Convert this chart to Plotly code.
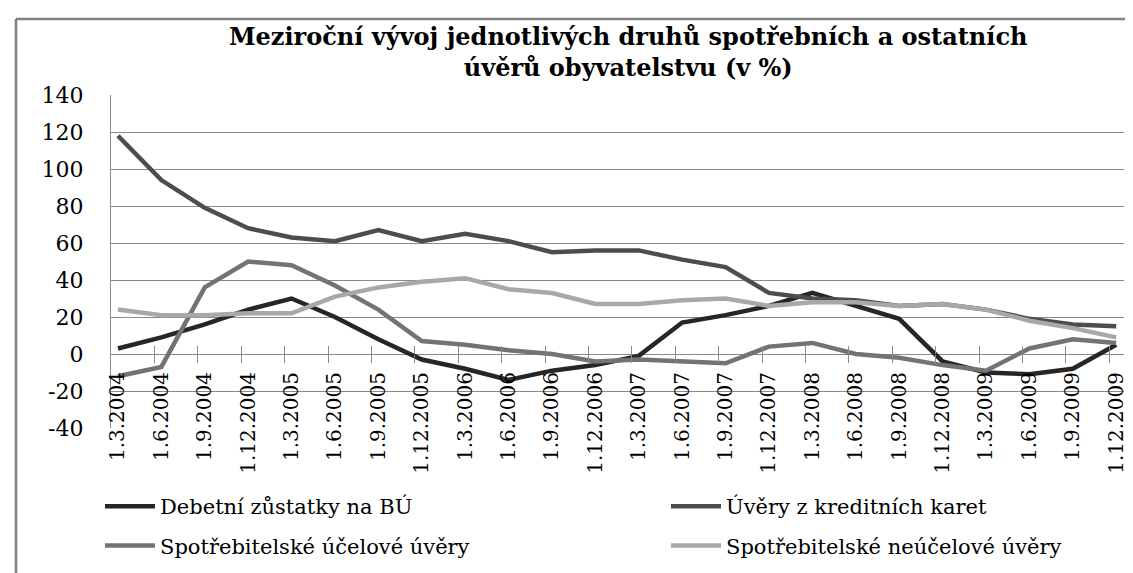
import plotly.graph_objects as go

# Quarterly dates (categories)
dates = [
    "1.3.2004", "1.6.2004", "1.9.2004", "1.12.2004",
    "1.3.2005", "1.6.2005", "1.9.2005", "1.12.2005",
    "1.3.2006", "1.6.2006", "1.9.2006", "1.12.2006",
    "1.3.2007", "1.6.2007", "1.9.2007", "1.12.2007",
    "1.3.2008", "1.6.2008", "1.9.2008", "1.12.2008",
    "1.3.2009", "1.6.2009", "1.9.2009", "1.12.2009",
]

# Year-on-year growth in %
debetni = [3, 9, 16, 24, 30, 20, 8, -3, -8, -14, -9, -6,
           -1, 17, 21, 26, 33, 26, 19, -4, -10, -11, -8, 5]
kreditni = [118, 94, 79, 68, 63, 61, 67, 61, 65, 61, 55, 56,
            56, 51, 47, 33, 30, 29, 26, 27, 24, 19, 16, 15]
ucelove = [-12, -7, 36, 50, 48, 37, 24, 7, 5, 2, 0, -4,
           -3, -4, -5, 4, 6, 0, -2, -6, -9, 3, 8, 6]
neucelove = [24, 21, 21, 22, 22, 31, 36, 39, 41, 35, 33, 27,
             27, 29, 30, 26, 28, 28, 26, 27, 24, 18, 14, 9]

y_ticks = [-40, -20, 0, 20, 40, 60, 80, 100, 120, 140]

series = [
    ("Debetní zůstatky na BÚ", debetni, "#262626", "legend"),
    ("Úvěry z kreditních karet", kreditni, "#4d4d4d", "legend2"),
    ("Spotřebitelské účelové úvěry", ucelove, "#737373", "legend"),
    ("Spotřebitelské neúčelové úvěry", neucelove, "#a8a8a8", "legend2"),
]

x_idx = list(range(len(dates)))
serif = "DejaVu Serif"
grid = "#8a8a8a"
W, H = 1133, 573
L, R, T, B = 103, 17, 87, 153
pw, ph = W - L - R, H - T - B

fig = go.Figure()
for i, (name, vals, color, leg) in enumerate(series):
    fig.add_trace(go.Scatter(
        x=x_idx, y=vals, name=name, mode="lines",
        line=dict(color=color, width=4.5),
        legend=leg, legendgroup=str(i),
    ))

xr = [-0.16, 23.18]
zero_pos = 40 / 180
tick_pos = [i + 0.84 for i in range(len(dates) - 1)]

leg_style = dict(
    orientation="v", xref="container", yref="container",
    xanchor="left", yanchor="top", y=1 - 478 / H,
    font=dict(family=serif, size=21, color="black"),
    itemwidth=50, tracegroupgap=9, bgcolor="rgba(0,0,0,0)",
)

fig.update_layout(
    width=W, height=H,
    paper_bgcolor="white", plot_bgcolor="white",
    margin=dict(l=L, r=R, t=T, b=B, autoexpand=False),
    font=dict(family=serif, color="black"),
    xaxis=dict(
        range=xr, tickmode="array", tickvals=x_idx, ticktext=dates,
        tickangle=-90, anchor="free", position=zero_pos, automargin=False,
        showgrid=False, zeroline=False, showline=False,
        ticks="outside", ticklen=9, tickcolor="rgba(0,0,0,0)",
        tickfont=dict(family=serif, size=20, color="black"),
    ),
    xaxis2=dict(
        range=xr, overlaying="x", anchor="free", position=zero_pos,
        tickmode="array", tickvals=tick_pos, showticklabels=False,
        ticks="inside", ticklen=8, tickcolor=grid, tickwidth=1.3,
        showgrid=False, zeroline=False, showline=False, automargin=False,
    ),
    xaxis3=dict(
        range=xr, overlaying="x", anchor="free", position=zero_pos,
        tickmode="array", tickvals=tick_pos, showticklabels=False,
        ticks="outside", ticklen=8, tickcolor=grid, tickwidth=1.3,
        showgrid=False, zeroline=False, showline=False, automargin=False,
    ),
    yaxis=dict(
        range=[-40, 140], tickmode="array", tickvals=y_ticks,
        ticktext=[str(v) for v in y_ticks],
        showgrid=True, gridcolor=grid, gridwidth=1.3,
        zeroline=True, zerolinecolor=grid, zerolinewidth=1.3,
        showline=True, linecolor=grid, linewidth=1.3, automargin=False,
        ticks="outside", ticklen=22, tickcolor="rgba(0,0,0,0)",
        tickfont=dict(family=serif, size=22, color="black"),
    ),
    legend=dict(leg_style, x=92 / W),
    legend2=dict(leg_style, x=658 / W),
    showlegend=True,
)

# title as annotation so both lines sit where the reference has them
fig.add_annotation(
    text="<b>Meziroční vývoj jednotlivých druhů spotřebních a ostatních<br>úvěrů obyvatelstvu (v %)</b>",
    xref="paper", yref="paper", x=0.51, y=1 + (T - 12) / ph,
    xanchor="center", yanchor="top", showarrow=False,
    font=dict(family=serif, size=24, color="black"),
)

# invisible traces to activate the tick-mark axes
fig.add_trace(go.Scatter(x=[0], y=[None], xaxis="x2", showlegend=False, hoverinfo="skip"))
fig.add_trace(go.Scatter(x=[0], y=[None], xaxis="x3", showlegend=False, hoverinfo="skip"))

# chart frame (top and left edges)
fx = (8 - L) / pw
fy_top = 1 + (T - 11) / ph
fig.add_shape(type="line", xref="paper", yref="paper",
              x0=fx, x1=(W - L) / pw, y0=fy_top, y1=fy_top,
              line=dict(color="#7f7f7f", width=2.5))
fig.add_shape(type="line", xref="paper", yref="paper",
              x0=fx, x1=fx, y0=-B / ph, y1=fy_top,
              line=dict(color="#7f7f7f", width=2.5))

fig.write_html("out.html")
